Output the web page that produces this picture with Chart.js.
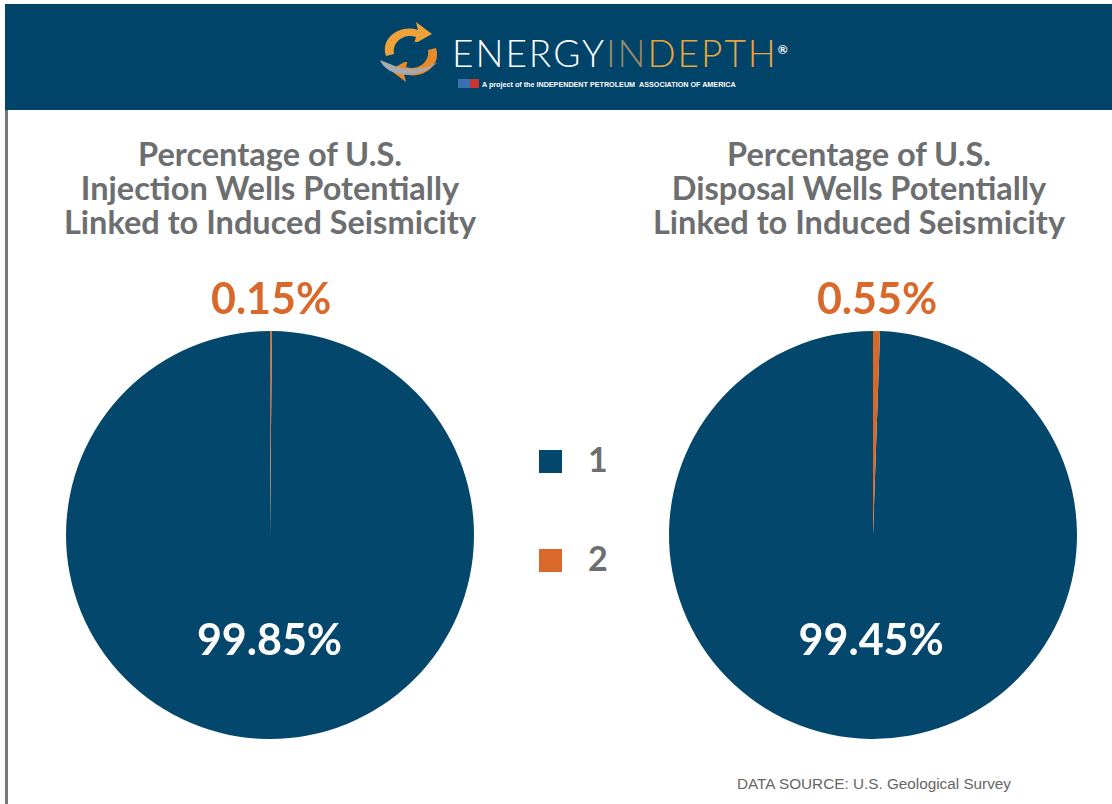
<!DOCTYPE html>
<html>
<head>
<meta charset="utf-8">
<script src="https://cdn.jsdelivr.net/npm/chart.js@4"></script>
<style>
  body { margin: 0; width: 1112px; height: 804px; background: #fff; position: relative; overflow: hidden; font-family: Lato, "Open Sans", sans-serif; }
  #header { position: absolute; left: 5px; top: 4px; width: 1107px; height: 106px; background: #00446a; }
  #edge { position: absolute; left: 5px; top: 110px; width: 3px; height: 694px; background: #777; }
  .title { position: absolute; top: 137px; width: 540px; text-align: center; font-weight: 700; font-size: 32.5px; line-height: 34px; color: #6d6e70; }
  .wrap { position: absolute; top: 260px; width: 500px; height: 500px; }
  .legend { position: absolute; left: 539px; font-weight: 700; font-size: 34px; color: #6d6e70; }
  .legend span.box { display: inline-block; width: 23px; height: 23px; vertical-align: middle; margin-right: 26px; position: relative; top: -2px; }
  #source { position: absolute; left: 737px; top: 775px; font-family: "Liberation Sans", Arial, sans-serif; font-size: 15.3px; color: #666; }
  #logoText { position: absolute; left: 452px; top: 30px; font-weight: 300; font-size: 37px; letter-spacing: 2px; color: #fff; }
  #logoSub { position: absolute; left: 482px; top: 80px; font-family: "Liberation Sans", Arial, sans-serif; font-weight: 700; font-size: 7.2px; color: #fff; }
</style>
</head>
<body>
<div id="header"></div>
<div id="edge"></div>

<svg style="position:absolute;left:376px;top:20px" width="70" height="64" viewBox="0 0 70 64">
  <path d="M10 36 C4 18 24 4 42 10 L40 2 L56 14 L38 24 L40 17 C28 13 16 22 18 34 Z" fill="#f0a23a"/>
  <path d="M60 28 C66 46 46 60 28 54 L30 62 L14 50 L32 40 L30 47 C42 51 54 42 52 30 Z" fill="#e88a2a"/>
  <path d="M4 40 C10 56 40 62 62 42 C50 50 30 52 14 44 Z" fill="#a7a9ac"/>
  <rect x="25" y="22" width="20" height="20" fill="#00446a"/>
</svg>
<div id="logoText">ENERGY<span style="color:#9c8a66">IN</span><span style="color:#eaa43c">DEPTH</span><sup style="font-size:12px;font-weight:700;color:#fff">®</sup></div>
<div style="position:absolute;left:458px;top:79px;width:21px;height:9px;background:#c33;"><div style="width:12px;height:9px;background:#3a6fb0"></div></div>
<div id="logoSub">A project of the INDEPENDENT PETROLEUM&nbsp;&nbsp;ASSOCIATION OF AMERICA</div>

<div class="title" style="left:0px">Percentage of U.S.<br>Injection Wells Potentially<br>Linked to Induced Seismicity</div>
<div class="title" style="left:589px">Percentage of U.S.<br>Disposal Wells Potentially<br>Linked to Induced Seismicity</div>

<div class="wrap" style="left:20px"><canvas id="injectionPie"></canvas></div>
<div class="wrap" style="left:623px"><canvas id="disposalPie"></canvas></div>

<div class="legend" style="top:438px"><span class="box" style="background:#03476c"></span>1</div>
<div class="legend" style="top:537px"><span class="box" style="background:#d8692b"></span>2</div>

<div id="source">DATA SOURCE: U.S. Geological Survey</div>

<script>
const categories = ['1', '2'];
const injectionShare = [99.85, 0.15];
const disposalShare = [99.45, 0.55];
const sliceColors = ['#03476c', '#d8692b'];
const labelColors = ['#ffffff', '#d8692b'];

// draws the percentage for each slice: big one inside, small one just above the pie
const pctLabels = {
  id: 'pctLabels',
  afterDatasetsDraw(chart) {
    const ctx = chart.ctx;
    const values = chart.data.datasets[0].data;
    chart.getDatasetMeta(0).data.forEach((arc, i) => {
      const mid = (arc.startAngle + arc.endAngle) / 2;
      const dist = values[i] > 50 ? arc.outerRadius * 0.52 : arc.outerRadius + 31;
      ctx.save();
      ctx.font = 'bold 43px Lato, sans-serif';
      ctx.fillStyle = labelColors[i];
      ctx.textAlign = 'center';
      ctx.textBaseline = 'middle';
      ctx.fillText(values[i].toFixed(2) + '%', arc.x + Math.cos(mid) * dist, arc.y + Math.sin(mid) * dist);
      ctx.restore();
    });
  }
};

function makePie(id, values) {
  new Chart(document.getElementById(id).getContext('2d'), {
    type: 'pie',
    data: {
      labels: categories,
      datasets: [{
        data: values,
        backgroundColor: sliceColors,
        borderWidth: 0,
        hoverOffset: 0
      }]
    },
    options: {
      responsive: true,
      maintainAspectRatio: false,
      animation: false,
      events: [],
      // small slice sits just right of 12 o'clock
      rotation: values[1] / 100 * 360,
      layout: { padding: { left: 46, right: 46, top: 71, bottom: 21 } },
      plugins: {
        legend: { display: false },
        tooltip: { enabled: false }
      }
    },
    plugins: [pctLabels]
  });
}

makePie('injectionPie', injectionShare);
makePie('disposalPie', disposalShare);
</script>
</body>
</html>
